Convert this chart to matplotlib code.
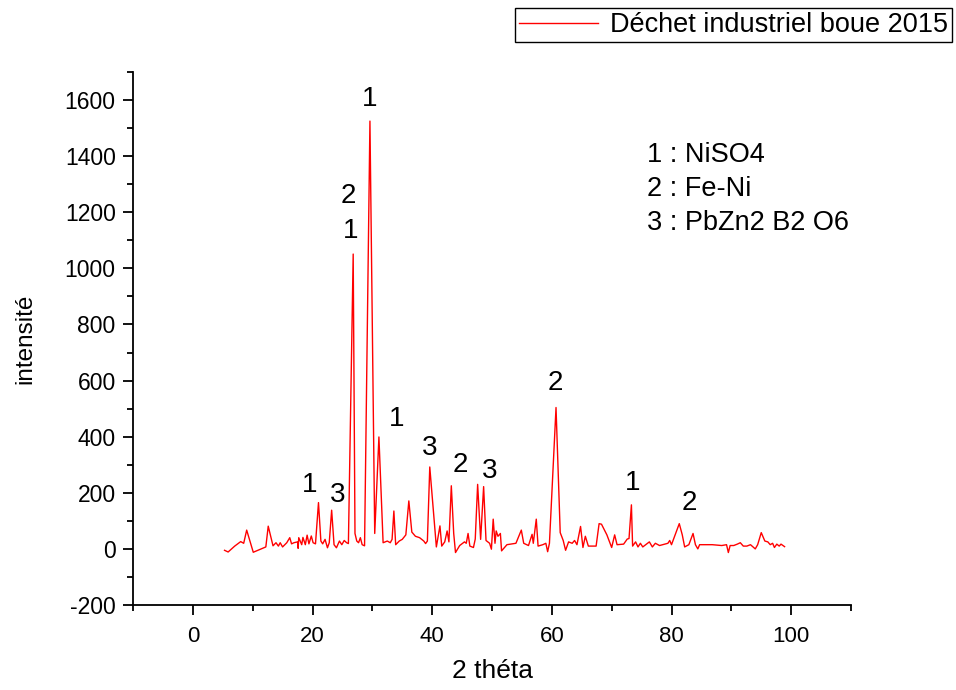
import matplotlib
matplotlib.use("Agg")
import matplotlib.pyplot as plt
from matplotlib.ticker import MultipleLocator

plt.rcParams['font.family'] = ['Liberation Sans', 'DejaVu Sans']
plt.rcParams['axes.unicode_minus'] = False

theta = [5.3, 5.9, 7.0, 8.0, 8.5, 9.0, 10.1, 12.2, 12.6, 13.4, 13.9, 14.3, 14.6, 15.0,
         15.7, 16.2, 16.5, 16.9, 17.5, 17.6, 17.7, 18.2, 18.4, 18.8, 19.1, 19.4, 19.8,
         20.1, 20.5, 21.0, 21.4, 21.7, 22.1, 22.5, 22.8, 23.2, 23.6, 24.0, 24.5, 24.9,
         25.3, 25.7, 26.0, 26.8, 27.1, 27.4, 27.7, 28.0, 28.3, 28.7, 29.6, 30.4, 31.1,
         31.8, 32.5, 33.0, 33.3, 33.6, 33.9, 34.5, 35.0, 35.6, 36.1, 36.6, 37.2, 37.9,
         38.6, 38.9, 39.2, 39.6, 40.3, 40.7, 41.3, 41.6, 42.1, 42.5, 42.8, 43.2, 43.6,
         43.9, 44.6, 45.4, 45.7, 46.0, 46.3, 46.9, 47.2, 47.6, 48.1, 48.6, 49.0, 49.6,
         49.9, 50.2, 50.5, 50.7, 51.0, 51.4, 51.6, 52.5, 54.0, 54.9, 55.3, 56.1, 56.7,
         56.9, 57.4, 57.7, 58.5, 59.0, 59.3, 59.6, 60.7, 61.4, 61.9, 62.3, 62.8, 63.4,
         63.8, 64.2, 64.8, 65.2, 65.6, 66.1, 67.4, 67.9, 68.3, 69.2, 70.0, 70.5, 70.9,
         72.0, 72.6, 72.9, 73.3, 73.5, 74.0, 74.4, 74.8, 75.2, 76.0, 76.3, 76.8, 77.3,
         78.0, 79.4, 79.7, 80.0, 81.3, 81.8, 82.2, 82.9, 83.6, 84.0, 84.4, 84.7, 86.8,
         88.4, 89.2, 89.5, 89.8, 90.4, 91.0, 91.5, 92.0, 92.6, 93.2, 94.0, 94.4, 95.0,
         95.6, 96.1, 96.5, 96.9, 97.2, 97.6, 98.0, 98.3, 98.9]
intensity = [-5, -11, 10, 26, 20, 67, -12, 7, 81, 11, 22, 10, 22, 7,
             22, 40, 18, 22, 25, 2, 40, 15, 41, 15, 49, 18, 46,
             22, 18, 165, 28, 18, 34, 4, 22, 138, 15, 4, 28, 15,
             30, 22, 19, 1051, 55, 28, 22, 40, 15, 11, 1525, 55, 399,
             22, 28, 22, 34, 135, 15, 28, 34, 50, 171, 60, 45, 40,
             28, 19, 28, 292, 112, 7, 82, 10, 25, 64, 25, 225, 55,
             -13, 12, 25, 20, 55, 10, 5, 35, 230, 34, 222, 30, 20,
             -1, 106, 20, 64, 45, 55, -7, 15, 20, 67, 20, 12, 52,
             20, 106, 10, 15, 20, -10, 20, 504, 58, 30, -5, 25, 20,
             30, 15, 80, 5, 45, 10, 10, 90, 88, 50, 5, 50, 15,
             17, 35, 37, 157, 10, 25, 7, 20, 7, 20, 25, 7, 20,
             12, 20, 30, 15, 90, 50, 7, 15, 55, 15, 0, 15, 15,
             12, 15, -13, 12, 12, 17, 22, 10, 10, 15, 0, 15, 58,
             28, 25, 15, 20, 5, 17, 10, 17, 8]

peak_labels = ['1', '3', '2', '1', '1', '1', '3', '2', '3', '2', '1', '2']
peak_x = [19.5, 24.2, 26.0, 26.4, 29.5, 34.1, 39.6, 44.7, 49.6, 60.6, 73.5, 83.0]
peak_y = [228, 192, 1258, 1133, 1604, 463, 360, 299, 278, 592, 235, 164]

phase_lines = ['1 : NiSO4', '2 : Fe-Ni', '3 : PbZn2 B2 O6']
series_name = 'Déchet industriel boue 2015'

fig = plt.figure(figsize=(9.56, 6.9), dpi=100)
ax = fig.add_axes([133/956, 85/690, (851-133)/956, (605-72)/690])

ax.plot(theta, intensity, color='#ff0000', linewidth=1.0, label=series_name)

for lab, x, y in zip(peak_labels, peak_x, peak_y):
    ax.text(x, y, lab, ha='center', va='center', fontsize=20, color='black')

for i, t in enumerate(phase_lines):
    ax.text(647/956, (690-155-34*i)/690, t, transform=fig.transFigure,
            ha='left', va='center', fontsize=19.5)

ax.set_xlim(-10, 110)
ax.set_ylim(-200, 1700)
ax.xaxis.set_major_locator(MultipleLocator(20))
ax.xaxis.set_minor_locator(MultipleLocator(10))
ax.set_yticks(list(range(-200, 1601, 200)))
ax.set_yticks(list(range(-200, 1701, 100)), minor=True)

for s in ['top', 'right']:
    ax.spines[s].set_visible(False)
for s in ['left', 'bottom']:
    ax.spines[s].set_linewidth(1.3)

ax.tick_params(which='major', direction='out', length=7, width=1.3)
ax.tick_params(which='minor', direction='out', length=4, width=1.3)
ax.tick_params(axis='y', which='major', labelsize=16.5, pad=5.5)
ax.tick_params(axis='x', which='major', labelsize=16, pad=8)

ax.set_xlabel('2 théta', fontsize=19, labelpad=9)
ax.set_ylabel('intensité', fontsize=17.5, labelpad=20)

fig.legend(loc='upper right', bbox_to_anchor=(952/956, 1 - 8/690), fontsize=19.5,
           frameon=True, fancybox=False, edgecolor='black', framealpha=1,
           handlelength=2.9, borderaxespad=0, borderpad=0.15, handletextpad=0.45)

fig.savefig('out.png', dpi=100)
